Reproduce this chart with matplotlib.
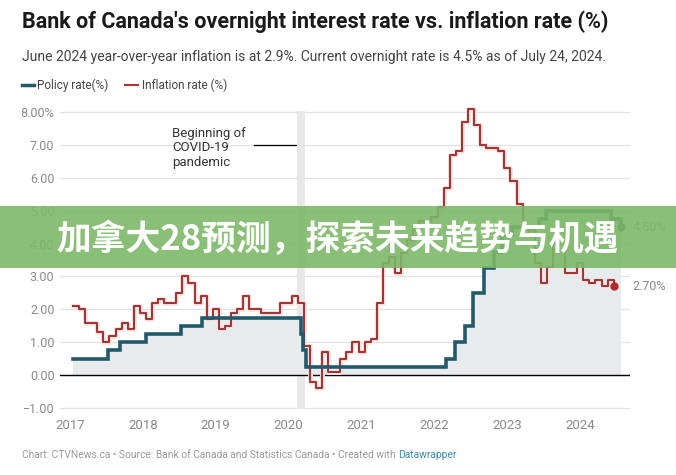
import numpy as np
import matplotlib.pyplot as plt
import matplotlib.patheffects as pe
from matplotlib.lines import Line2D
from matplotlib.patches import Rectangle
from datetime import date

# ========== data ==========
policy_dates = ["2017-01-15", "2017-07-12", "2017-09-06", "2018-01-17", "2018-07-11",
                "2018-10-24", "2020-03-04", "2020-03-13", "2020-03-27", "2022-03-02",
                "2022-04-13", "2022-06-01", "2022-07-13", "2022-09-07", "2022-10-26",
                "2022-12-07", "2023-01-25", "2023-06-07", "2023-07-12", "2024-06-05",
                "2024-07-24"]
policy_rate = [0.50, 0.75, 1.00, 1.25, 1.50, 1.75, 1.25, 0.75, 0.25, 0.50,
               1.00, 1.50, 2.50, 3.25, 3.75, 4.25, 4.50, 4.75, 5.00, 4.75, 4.50]

# monthly CPI y/y, Jan 2017 .. Jun 2024
infl_2017 = [2.1, 2.0, 1.6, 1.6, 1.3, 1.0, 1.2, 1.4, 1.6, 1.4, 2.1, 1.9]
infl_2018 = [1.7, 2.2, 2.3, 2.2, 2.2, 2.5, 3.0, 2.8, 2.2, 2.4, 1.7, 2.0]
infl_2019 = [1.4, 1.5, 1.9, 2.0, 2.4, 2.0, 2.0, 1.9, 1.9, 1.9, 2.2, 2.2]
infl_2020 = [2.4, 2.2, 0.9, -0.2, -0.4, 0.7, 0.1, 0.1, 0.5, 0.7, 1.0, 0.7]
infl_2021 = [1.0, 1.1, 2.2, 3.4, 3.6, 3.1, 3.7, 4.1, 4.4, 4.7, 4.7, 4.8]
infl_2022 = [5.1, 5.7, 6.7, 6.8, 7.7, 8.1, 7.6, 7.0, 6.9, 6.9, 6.8, 6.3]
infl_2023 = [5.9, 5.2, 4.3, 4.4, 3.4, 2.8, 3.3, 4.0, 3.8, 3.1, 3.1, 3.4]
infl_2024 = [2.9, 2.8, 2.9, 2.7, 2.9, 2.7]
inflation = infl_2017 + infl_2018 + infl_2019 + infl_2020 + infl_2021 + infl_2022 + infl_2023 + infl_2024

years = [2017, 2018, 2019, 2020, 2021, 2022, 2023, 2024]
y_ticks = [-1, 0, 1, 2, 3, 4, 5, 6, 7, 8]
y_labels = ["\u22121.00", "0.00", "1.00", "2.00", "3.00", "4.00", "5.00", "6.00", "7.00", "8.00%"]

covid_start, covid_end = "2020-02-10", "2020-03-25"


def dec_year(s):
    d = date.fromisoformat(s)
    return d.year + (d.timetuple().tm_yday - 1) / 365.0


policy_x = np.array([dec_year(s) for s in policy_dates])
policy_y = np.array(policy_rate)
infl_x = 2017 + (np.arange(len(inflation)) + 0.5) / 12.0
infl_y = np.array(inflation)

# ========== colours ==========
TEAL = '#24596a'
RED = '#a33535'
GREY = '#8a8a8a'

plt.rcParams['font.family'] = ['Roboto', 'DejaVu Sans']

W, H = 676, 475
fig = plt.figure(figsize=(W / 100, H / 100), dpi=100)
fig.patch.set_facecolor('white')

# axes placed in pixel terms
ax_l, ax_r, ax_t, ax_b = 60, 630, 105, 415
ax = fig.add_axes([ax_l / W, 1 - ax_b / H, (ax_r - ax_l) / W, (ax_b - ax_t) / H])
px_per_year = 72.9
x0 = 2017 + (ax_l - 70) / px_per_year
x1 = 2017 + (ax_r - 70) / px_per_year
ax.set_xlim(x0, x1)
ax.set_ylim(-1.21, 8.21)

for s in ax.spines.values():
    s.set_visible(False)
ax.set_yticks(y_ticks)
ax.set_yticklabels(y_labels)
ax.set_xticks(years)
ax.set_xticklabels([str(y) for y in years])
ax.tick_params(axis='both', length=0, colors=GREY, labelsize=9)
ax.tick_params(axis='y', pad=4)
ax.tick_params(axis='x', pad=3, labelsize=9.5)
ax.grid(axis='y', color='#e2e2e2', linewidth=0.9)
ax.set_axisbelow(True)
ax.axhline(0, color='black', linewidth=1.0, zorder=2)

# covid band
ax.axvspan(dec_year(covid_start), dec_year(covid_end), ymin=0.02, ymax=0.98,
           color='#e8e8e8', zorder=1, linewidth=0)

# policy area + line
ax.fill_between(policy_x, 0, policy_y, step='post', color='#e8ebee', zorder=1.5, linewidth=0)
ax.step(policy_x, policy_y, where='post', color=TEAL, linewidth=2.6, zorder=4,
        solid_joinstyle='miter')
ax.plot(policy_x[-1], policy_y[-1], 'o', color=TEAL, markersize=5, zorder=5)

# inflation line
ax.step(infl_x, infl_y, where='post', color=RED, linewidth=1.5, zorder=3,
        path_effects=[pe.Stroke(linewidth=3.5, foreground='#f7e5e5'), pe.Normal()])
ax.plot(infl_x[-1], infl_y[-1], 'o', color='#b32a2a', markersize=5, zorder=5)

# end labels
ax.annotate(f"{policy_y[-1]:.2f}%", xy=(1.0, policy_y[-1]), xycoords=('axes fraction', 'data'),
            xytext=(2, 0), textcoords='offset points', va='center', ha='left',
            color=GREY, fontsize=9, annotation_clip=False)
ax.annotate(f"{infl_y[-1]:.2f}%", xy=(1.0, infl_y[-1]), xycoords=('axes fraction', 'data'),
            xytext=(2, 0), textcoords='offset points', va='center', ha='left',
            color=GREY, fontsize=9, annotation_clip=False)

# covid annotation
ax.text(2018.4, 7.55, "Beginning of\nCOVID-19\npandemic", fontsize=9.5, color='#333333',
        va='top', ha='left', linespacing=1.15, zorder=6)
ax.plot([2019.52, 2020.10], [7.0, 7.0], color='black', linewidth=0.9, zorder=6)

# ========== header ==========
fig.text(22 / W, 1 - 22 / H, "Bank of Canada's overnight interest rate vs. inflation rate (%)",
         fontsize=15.5, fontweight='bold', color='#1a1a1a', va='center', ha='left')
fig.text(22 / W, 1 - 57 / H,
         "June 2024 year-over-year inflation is at 2.9%. Current overnight rate is 4.5% as of July 24, 2024.",
         fontsize=10, color='#444444', va='center', ha='left')

ly = 1 - 85 / H
fig.add_artist(Line2D([22 / W, 34 / W], [ly, ly], color=TEAL, linewidth=2.5))
fig.text(37 / W, ly, "Policy rate(%)", fontsize=8.5, color='#444444', va='center', ha='left')
fig.add_artist(Line2D([125 / W, 138 / W], [ly, ly], color=RED, linewidth=1.5))
fig.text(142 / W, ly, "Inflation rate (%)", fontsize=8.5, color='#444444', va='center', ha='left')

# ========== footer ==========
foot = fig.text(22 / W, 1 - 455 / H,
                "Chart: CTVNews.ca \u2022 Source: Bank of Canada and Statistics Canada \u2022 Created with ",
                fontsize=7.4, color='#9a9a9a', va='center', ha='left')
fig.canvas.draw()
bb = foot.get_window_extent(renderer=fig.canvas.get_renderer())
fig.text(bb.x1 / W, 1 - 455 / H, "Datawrapper", fontsize=7.4, color='#3a8aa5',
         va='center', ha='left')

# ========== overlay banner ==========
fig.add_artist(Rectangle((0, 1 - 268 / H), 1, 62 / H, transform=fig.transFigure,
                         facecolor='#7cb867', alpha=0.9, edgecolor='none', zorder=10))
fig.text(337 / W, 1 - 239 / H, "加拿大28预测，探索未来趋势与机遇", fontsize=25, fontweight='heavy',
         color='white', ha='center', va='center', zorder=11,
         family=['Noto Sans CJK SC', 'DejaVu Sans'])

fig.savefig('out.png', dpi=100)
